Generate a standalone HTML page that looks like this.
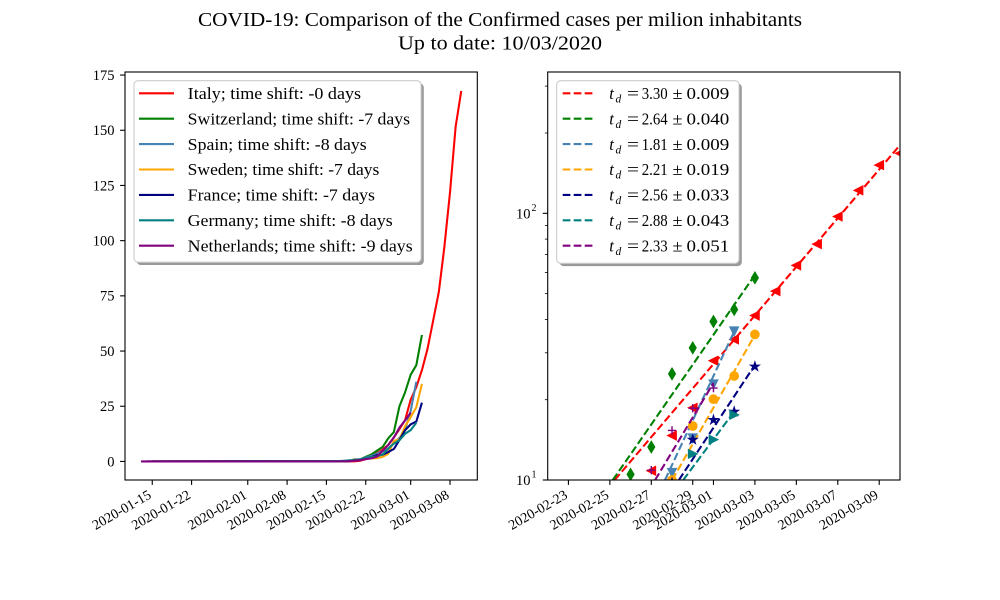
<!DOCTYPE html>
<html><head><meta charset="utf-8"><style>
html,body{margin:0;padding:0;background:#fff;}
svg{display:block;}
text{font-family:"Liberation Serif","DejaVu Serif",serif;fill:#000;}
</style></head><body>
<svg width="1000" height="600" viewBox="0 0 1000 600" xmlns="http://www.w3.org/2000/svg">
<defs>
<clipPath id="cr"><rect x="547.7" y="72" width="352.3" height="408"/></clipPath>
<clipPath id="cl"><rect x="125" y="72" width="352.3" height="408"/></clipPath>
</defs>
<rect width="1000" height="600" fill="#fff"/>
<!-- Title -->
<text x="500" y="26" font-size="20" text-anchor="middle" textLength="604" lengthAdjust="spacingAndGlyphs">COVID-19: Comparison of the Confirmed cases per milion inhabitants</text>
<text x="500" y="49.5" font-size="20" text-anchor="middle" textLength="204" lengthAdjust="spacingAndGlyphs">Up to date: 10/03/2020</text>

<!-- LEFT CHART -->
<g clip-path="url(#cl)">
<g transform="matrix(5.6184 0 0 -2.208 141.01 461.45)" fill="none" stroke-width="2.08" stroke-linejoin="round">
<polyline vector-effect="non-scaling-stroke" stroke="#ff0000" points="9,0 18,0.033 25,0.05 38,0.05 39,0.33 40,1.03 41,2.56 42,3.79 43,5.32 44,7.49 45,10.83 46,14.68 47,18.65 48,28.0 49,33.66 50,41.37 51,51.07 52,63.79 53,76.65 54,97.27 55,121.94 56,151.65 57,167.81"/>
<polyline vector-effect="non-scaling-stroke" stroke="#008000" points="2,0 35,0 36,0.117 37,0.117 38,0.93 39,0.93 40,2.1 41,3.15 42,4.9 43,6.53 44,10.5 45,13.3 46,25.0 47,31.3 48,39.3 49,43.6 50,57.3"/>
<polyline vector-effect="non-scaling-stroke" stroke="#4682b4" points="1,0 34,0.04 35,0.13 36,0.28 37,0.32 38,0.68 39,0.96 40,1.79 41,2.56 42,3.52 43,4.73 44,5.52 45,8.52 46,10.65 47,14.34 48,22.86 49,36.1"/>
<polyline vector-effect="non-scaling-stroke" stroke="#ffa500" points="2,0 37,0.2 38,0.69 39,0.69 40,1.19 41,1.39 42,1.49 43,2.08 44,3.47 45,9.31 46,10.0 47,15.94 48,20.1 49,24.55 50,35.15"/>
<polyline vector-effect="non-scaling-stroke" stroke="#000080" points="2,0 36,0.2 37,0.27 38,0.57 39,0.85 40,1.49 41,1.94 42,2.85 43,3.04 44,4.25 45,5.63 46,9.75 47,14.16 48,16.8 49,18.04 50,26.63"/>
<polyline vector-effect="non-scaling-stroke" stroke="#008080" points="1,0 35,0.19 36,0.2 37,0.55 38,0.58 39,0.95 40,1.57 41,1.92 42,2.36 43,3.16 44,5.81 45,8.07 46,9.63 47,12.53 48,14.17 49,17.55"/>
<polyline vector-effect="non-scaling-stroke" stroke="#800080" points="0,0 35,0 36,0.058 37,0.058 38,0.35 39,0.58 40,1.04 41,1.39 42,2.2 43,4.75 44,7.41 45,10.88 46,15.34 47,18.58 48,22.11"/>
</g>
</g>
<rect x="125" y="72" width="352.3" height="408" fill="none" stroke="#000" stroke-width="1.1"/>
<!-- left y ticks -->
<g stroke="#000" stroke-width="1.1">
<line x1="120.1" x2="125" y1="461.45" y2="461.45"/>
<line x1="120.1" x2="125" y1="406.25" y2="406.25"/>
<line x1="120.1" x2="125" y1="351.05" y2="351.05"/>
<line x1="120.1" x2="125" y1="295.85" y2="295.85"/>
<line x1="120.1" x2="125" y1="240.65" y2="240.65"/>
<line x1="120.1" x2="125" y1="185.45" y2="185.45"/>
<line x1="120.1" x2="125" y1="130.25" y2="130.25"/>
<line x1="120.1" x2="125" y1="75.05" y2="75.05"/>
</g>
<g font-size="14.5" text-anchor="end">
<text x="114.5" y="466.3">0</text>
<text x="114.5" y="411.1">25</text>
<text x="114.5" y="355.9">50</text>
<text x="114.5" y="300.7">75</text>
<text x="114.5" y="245.5">100</text>
<text x="114.5" y="190.3">125</text>
<text x="114.5" y="135.1">150</text>
<text x="114.5" y="79.9">175</text>
</g>
<!-- left x ticks -->
<g stroke="#000" stroke-width="1.1">
<line x1="152.25" x2="152.25" y1="480" y2="484.9"/>
<line x1="191.58" x2="191.58" y1="480" y2="484.9"/>
<line x1="247.76" x2="247.76" y1="480" y2="484.9"/>
<line x1="287.09" x2="287.09" y1="480" y2="484.9"/>
<line x1="326.42" x2="326.42" y1="480" y2="484.9"/>
<line x1="365.75" x2="365.75" y1="480" y2="484.9"/>
<line x1="410.69" x2="410.69" y1="480" y2="484.9"/>
<line x1="450.02" x2="450.02" y1="480" y2="484.9"/>
</g>
<g font-size="14" text-anchor="end">
<text transform="translate(152.25,497.5) rotate(-30)">2020-01-15</text>
<text transform="translate(191.58,497.5) rotate(-30)">2020-01-22</text>
<text transform="translate(247.76,497.5) rotate(-30)">2020-02-01</text>
<text transform="translate(287.09,497.5) rotate(-30)">2020-02-08</text>
<text transform="translate(326.42,497.5) rotate(-30)">2020-02-15</text>
<text transform="translate(365.75,497.5) rotate(-30)">2020-02-22</text>
<text transform="translate(410.69,497.5) rotate(-30)">2020-03-01</text>
<text transform="translate(450.02,497.5) rotate(-30)">2020-03-08</text>
</g>
<!-- left legend -->
<rect x="136.8" y="83.5" width="287" height="181.5" rx="4" fill="#9a9a9a"/>
<rect x="134" y="80.7" width="287" height="181.5" rx="4" fill="#fff" stroke="#cccccc" stroke-width="1.1"/>
<g stroke-width="2.08">
<line x1="139" x2="174" y1="93.3" y2="93.3" stroke="#ff0000"/>
<line x1="139" x2="174" y1="118.7" y2="118.7" stroke="#008000"/>
<line x1="139" x2="174" y1="144.1" y2="144.1" stroke="#4682b4"/>
<line x1="139" x2="174" y1="169.5" y2="169.5" stroke="#ffa500"/>
<line x1="139" x2="174" y1="194.9" y2="194.9" stroke="#000080"/>
<line x1="139" x2="174" y1="220.3" y2="220.3" stroke="#008080"/>
<line x1="139" x2="174" y1="245.7" y2="245.7" stroke="#800080"/>
</g>
<g font-size="16.5">
<text x="187.7" y="99" textLength="173.3" lengthAdjust="spacingAndGlyphs">Italy; time shift: -0 days</text>
<text x="187.7" y="124.4" textLength="222.3" lengthAdjust="spacingAndGlyphs">Switzerland; time shift: -7 days</text>
<text x="187.7" y="149.8" textLength="179" lengthAdjust="spacingAndGlyphs">Spain; time shift: -8 days</text>
<text x="187.7" y="175.2" textLength="191.6" lengthAdjust="spacingAndGlyphs">Sweden; time shift: -7 days</text>
<text x="187.7" y="200.6" textLength="187.3" lengthAdjust="spacingAndGlyphs">France; time shift: -7 days</text>
<text x="187.7" y="226" textLength="205" lengthAdjust="spacingAndGlyphs">Germany; time shift: -8 days</text>
<text x="187.7" y="251.4" textLength="225" lengthAdjust="spacingAndGlyphs">Netherlands; time shift: -9 days</text>
</g>

<!-- RIGHT CHART -->
<g clip-path="url(#cr)">
<!-- Italy -->
<g fill="#ff0000" stroke="#ff0000" stroke-width="1.39">
<polygon transform="translate(651.3,470.76)" points="-4.17,0 4.17,-4.17 4.17,4.17"/>
<polygon transform="translate(672.02,435.53)" points="-4.17,0 4.17,-4.17 4.17,4.17"/>
<polygon transform="translate(692.74,407.81)" points="-4.17,0 4.17,-4.17 4.17,4.17"/>
<polygon transform="translate(713.46,360.74)" points="-4.17,0 4.17,-4.17 4.17,4.17"/>
<polygon transform="translate(734.18,339.42)" points="-4.17,0 4.17,-4.17 4.17,4.17"/>
<polygon transform="translate(754.9,315.53)" points="-4.17,0 4.17,-4.17 4.17,4.17"/>
<polygon transform="translate(775.62,291.13)" points="-4.17,0 4.17,-4.17 4.17,4.17"/>
<polygon transform="translate(796.34,265.37)" points="-4.17,0 4.17,-4.17 4.17,4.17"/>
<polygon transform="translate(817.06,244.1)" points="-4.17,0 4.17,-4.17 4.17,4.17"/>
<polygon transform="translate(837.78,216.51)" points="-4.17,0 4.17,-4.17 4.17,4.17"/>
<polygon transform="translate(858.5,190.33)" points="-4.17,0 4.17,-4.17 4.17,4.17"/>
<polygon transform="translate(879.22,165.07)" points="-4.17,0 4.17,-4.17 4.17,4.17"/>
<polygon transform="translate(899.94,153.34)" points="-4.17,0 4.17,-4.17 4.17,4.17"/>
</g>
<line x1="614.7" y1="480" x2="899.94" y2="145.1" stroke="#ff0000" stroke-width="2.08" stroke-dasharray="7.7 3.3"/>
<!-- Switzerland -->
<g fill="#008000" stroke="#008000" stroke-width="1.39">
<polygon transform="translate(630.58,474.35)" points="0,-5.5 3.3,0 0,5.5 -3.3,0"/>
<polygon transform="translate(651.3,447.04)" points="0,-5.5 3.3,0 0,5.5 -3.3,0"/>
<polygon transform="translate(672.02,373.87)" points="0,-5.5 3.3,0 0,5.5 -3.3,0"/>
<polygon transform="translate(692.74,347.85)" points="0,-5.5 3.3,0 0,5.5 -3.3,0"/>
<polygon transform="translate(713.46,321.48)" points="0,-5.5 3.3,0 0,5.5 -3.3,0"/>
<polygon transform="translate(734.18,309.46)" points="0,-5.5 3.3,0 0,5.5 -3.3,0"/>
<polygon transform="translate(754.9,277.82)" points="0,-5.5 3.3,0 0,5.5 -3.3,0"/>
</g>
<line x1="612.8" y1="480" x2="754.9" y2="275" stroke="#008000" stroke-width="2.08" stroke-dasharray="7.7 3.3"/>
<!-- Spain -->
<g fill="#4682b4" stroke="#4682b4" stroke-width="1.39">
<polygon transform="translate(672.02,472.71)" points="0,4.17 -4.17,-4.17 4.17,-4.17"/>
<polygon transform="translate(692.74,438.24)" points="0,4.17 -4.17,-4.17 4.17,-4.17"/>
<polygon transform="translate(713.46,384.23)" points="0,4.17 -4.17,-4.17 4.17,-4.17"/>
<polygon transform="translate(734.18,331.3)" points="0,4.17 -4.17,-4.17 4.17,-4.17"/>
</g>
<line x1="665" y1="480" x2="734.18" y2="331.5" stroke="#4682b4" stroke-width="2.08" stroke-dasharray="7.7 3.3"/>
<!-- Sweden -->
<g fill="#ffa500" stroke="#ffa500" stroke-width="1.39">
<circle cx="672.02" cy="480" r="4.17"/>
<circle cx="692.74" cy="426" r="4.17"/>
<circle cx="713.46" cy="399.14" r="4.17"/>
<circle cx="734.18" cy="375.98" r="4.17"/>
<circle cx="754.9" cy="334.4" r="4.17"/>
</g>
<line x1="672.2" y1="480" x2="754.9" y2="335" stroke="#ffa500" stroke-width="2.08" stroke-dasharray="7.7 3.3"/>
<!-- France -->
<g fill="#000080" stroke="#000080" stroke-width="1.1" stroke-linejoin="miter">
<polygon transform="translate(672.02,482.93)" points="0,-4.6 1.03,-1.42 4.37,-1.42 1.67,0.54 2.7,3.72 0,1.76 -2.7,3.72 -1.67,0.54 -4.37,-1.42 -1.03,-1.42"/>
<polygon transform="translate(692.74,439.71)" points="0,-4.6 1.03,-1.42 4.37,-1.42 1.67,0.54 2.7,3.72 0,1.76 -2.7,3.72 -1.67,0.54 -4.37,-1.42 -1.03,-1.42"/>
<polygon transform="translate(713.46,419.91)" points="0,-4.6 1.03,-1.42 4.37,-1.42 1.67,0.54 2.7,3.72 0,1.76 -2.7,3.72 -1.67,0.54 -4.37,-1.42 -1.03,-1.42"/>
<polygon transform="translate(734.18,411.66)" points="0,-4.6 1.03,-1.42 4.37,-1.42 1.67,0.54 2.7,3.72 0,1.76 -2.7,3.72 -1.67,0.54 -4.37,-1.42 -1.03,-1.42"/>
<polygon transform="translate(754.9,366.54)" points="0,-4.6 1.03,-1.42 4.37,-1.42 1.67,0.54 2.7,3.72 0,1.76 -2.7,3.72 -1.67,0.54 -4.37,-1.42 -1.03,-1.42"/>
</g>
<line x1="678.9" y1="480" x2="754.9" y2="365" stroke="#000080" stroke-width="2.08" stroke-dasharray="7.7 3.3"/>
<!-- Germany -->
<g fill="#008080" stroke="#008080" stroke-width="1.39">
<polygon transform="translate(672.02,484.37)" points="4.17,0 -4.17,-4.17 -4.17,4.17"/>
<polygon transform="translate(692.74,453.88)" points="4.17,0 -4.17,-4.17 -4.17,4.17"/>
<polygon transform="translate(713.46,439.63)" points="4.17,0 -4.17,-4.17 -4.17,4.17"/>
<polygon transform="translate(734.18,414.85)" points="4.17,0 -4.17,-4.17 -4.17,4.17"/>
</g>
<line x1="683.25" y1="480" x2="734.18" y2="411.5" stroke="#008080" stroke-width="2.08" stroke-dasharray="7.7 3.3"/>
<!-- Netherlands -->
<g fill="none" stroke="#800080" stroke-width="1.39">
<path transform="translate(651.3,470.23)" d="M-4.17,0H4.17M0,-4.17V4.17"/>
<path transform="translate(672.02,430.44)" d="M-4.17,0H4.17M0,-4.17V4.17"/>
<path transform="translate(692.74,408.25)" d="M-4.17,0H4.17M0,-4.17V4.17"/>
<path transform="translate(713.46,388.1)" d="M-4.17,0H4.17M0,-4.17V4.17"/>
</g>
<line x1="655.1" y1="480" x2="713.46" y2="383" stroke="#800080" stroke-width="2.08" stroke-dasharray="7.7 3.3"/>
</g>
<rect x="547.7" y="72" width="352.3" height="408" fill="none" stroke="#000" stroke-width="1.1"/>
<!-- right y ticks -->
<g stroke="#000" stroke-width="1.1">
<line x1="542.8" x2="547.7" y1="480" y2="480"/>
<line x1="542.8" x2="547.7" y1="213.3" y2="213.3"/>
</g>
<g stroke="#000" stroke-width="0.8">
<line x1="544.9" x2="547.7" y1="399.7" y2="399.7"/>
<line x1="544.9" x2="547.7" y1="352.8" y2="352.8"/>
<line x1="544.9" x2="547.7" y1="319.4" y2="319.4"/>
<line x1="544.9" x2="547.7" y1="293.6" y2="293.6"/>
<line x1="544.9" x2="547.7" y1="272.5" y2="272.5"/>
<line x1="544.9" x2="547.7" y1="254.6" y2="254.6"/>
<line x1="544.9" x2="547.7" y1="239.1" y2="239.1"/>
<line x1="544.9" x2="547.7" y1="225.5" y2="225.5"/>
<line x1="544.9" x2="547.7" y1="133.0" y2="133.0"/>
<line x1="544.9" x2="547.7" y1="86.1" y2="86.1"/>
</g>
<text x="516" y="218.3" font-size="14.5">10</text>
<text x="531.5" y="211" font-size="10">2</text>
<text x="516" y="485" font-size="14.5">10</text>
<text x="531.5" y="477.7" font-size="10">1</text>
<!-- right x ticks -->
<g stroke="#000" stroke-width="1.1">
<line x1="568.42" x2="568.42" y1="480" y2="484.9"/>
<line x1="609.86" x2="609.86" y1="480" y2="484.9"/>
<line x1="651.3" x2="651.3" y1="480" y2="484.9"/>
<line x1="692.74" x2="692.74" y1="480" y2="484.9"/>
<line x1="713.46" x2="713.46" y1="480" y2="484.9"/>
<line x1="754.9" x2="754.9" y1="480" y2="484.9"/>
<line x1="796.34" x2="796.34" y1="480" y2="484.9"/>
<line x1="837.78" x2="837.78" y1="480" y2="484.9"/>
<line x1="879.22" x2="879.22" y1="480" y2="484.9"/>
</g>
<g font-size="14" text-anchor="end">
<text transform="translate(568.42,497.5) rotate(-30)">2020-02-23</text>
<text transform="translate(609.86,497.5) rotate(-30)">2020-02-25</text>
<text transform="translate(651.3,497.5) rotate(-30)">2020-02-27</text>
<text transform="translate(692.74,497.5) rotate(-30)">2020-02-29</text>
<text transform="translate(713.46,497.5) rotate(-30)">2020-03-01</text>
<text transform="translate(754.9,497.5) rotate(-30)">2020-03-03</text>
<text transform="translate(796.34,497.5) rotate(-30)">2020-03-05</text>
<text transform="translate(837.78,497.5) rotate(-30)">2020-03-07</text>
<text transform="translate(879.22,497.5) rotate(-30)">2020-03-09</text>
</g>
<!-- right legend -->
<rect x="559.5" y="83.5" width="182.3" height="182.6" rx="4" fill="#9a9a9a"/>
<rect x="556.7" y="80.7" width="182.3" height="182.6" rx="4" fill="#fff" stroke="#cccccc" stroke-width="1.1"/>
<g stroke-width="2.08" stroke-dasharray="7.7 3.3">
<line x1="562.7" x2="593.3" y1="93.3" y2="93.3" stroke="#ff0000"/>
<line x1="562.7" x2="593.3" y1="118.7" y2="118.7" stroke="#008000"/>
<line x1="562.7" x2="593.3" y1="144.1" y2="144.1" stroke="#4682b4"/>
<line x1="562.7" x2="593.3" y1="169.5" y2="169.5" stroke="#ffa500"/>
<line x1="562.7" x2="593.3" y1="194.9" y2="194.9" stroke="#000080"/>
<line x1="562.7" x2="593.3" y1="220.3" y2="220.3" stroke="#008080"/>
<line x1="562.7" x2="593.3" y1="245.7" y2="245.7" stroke="#800080"/>
</g>
<g font-size="16.5">
<g transform="translate(0,99)">
<text x="609.3" y="0" font-style="italic">t</text><text x="615.5" y="3.5" font-size="11.5" font-style="italic">d</text>
<text x="627" y="0" textLength="12" lengthAdjust="spacingAndGlyphs">=</text>
<text x="641.7" y="0" textLength="26" lengthAdjust="spacingAndGlyphs">3.30</text>
<text x="672.5" y="0" textLength="10" lengthAdjust="spacingAndGlyphs">±</text>
<text x="686.5" y="0" textLength="42.8" lengthAdjust="spacingAndGlyphs">0.009</text>
</g>
<g transform="translate(0,124.4)">
<text x="609.3" y="0" font-style="italic">t</text><text x="615.5" y="3.5" font-size="11.5" font-style="italic">d</text>
<text x="627" y="0" textLength="12" lengthAdjust="spacingAndGlyphs">=</text>
<text x="641.7" y="0" textLength="26" lengthAdjust="spacingAndGlyphs">2.64</text>
<text x="672.5" y="0" textLength="10" lengthAdjust="spacingAndGlyphs">±</text>
<text x="686.5" y="0" textLength="42.8" lengthAdjust="spacingAndGlyphs">0.040</text>
</g>
<g transform="translate(0,149.8)">
<text x="609.3" y="0" font-style="italic">t</text><text x="615.5" y="3.5" font-size="11.5" font-style="italic">d</text>
<text x="627" y="0" textLength="12" lengthAdjust="spacingAndGlyphs">=</text>
<text x="641.7" y="0" textLength="26" lengthAdjust="spacingAndGlyphs">1.81</text>
<text x="672.5" y="0" textLength="10" lengthAdjust="spacingAndGlyphs">±</text>
<text x="686.5" y="0" textLength="42.8" lengthAdjust="spacingAndGlyphs">0.009</text>
</g>
<g transform="translate(0,175.2)">
<text x="609.3" y="0" font-style="italic">t</text><text x="615.5" y="3.5" font-size="11.5" font-style="italic">d</text>
<text x="627" y="0" textLength="12" lengthAdjust="spacingAndGlyphs">=</text>
<text x="641.7" y="0" textLength="26" lengthAdjust="spacingAndGlyphs">2.21</text>
<text x="672.5" y="0" textLength="10" lengthAdjust="spacingAndGlyphs">±</text>
<text x="686.5" y="0" textLength="42.8" lengthAdjust="spacingAndGlyphs">0.019</text>
</g>
<g transform="translate(0,200.6)">
<text x="609.3" y="0" font-style="italic">t</text><text x="615.5" y="3.5" font-size="11.5" font-style="italic">d</text>
<text x="627" y="0" textLength="12" lengthAdjust="spacingAndGlyphs">=</text>
<text x="641.7" y="0" textLength="26" lengthAdjust="spacingAndGlyphs">2.56</text>
<text x="672.5" y="0" textLength="10" lengthAdjust="spacingAndGlyphs">±</text>
<text x="686.5" y="0" textLength="42.8" lengthAdjust="spacingAndGlyphs">0.033</text>
</g>
<g transform="translate(0,226)">
<text x="609.3" y="0" font-style="italic">t</text><text x="615.5" y="3.5" font-size="11.5" font-style="italic">d</text>
<text x="627" y="0" textLength="12" lengthAdjust="spacingAndGlyphs">=</text>
<text x="641.7" y="0" textLength="26" lengthAdjust="spacingAndGlyphs">2.88</text>
<text x="672.5" y="0" textLength="10" lengthAdjust="spacingAndGlyphs">±</text>
<text x="686.5" y="0" textLength="42.8" lengthAdjust="spacingAndGlyphs">0.043</text>
</g>
<g transform="translate(0,251.4)">
<text x="609.3" y="0" font-style="italic">t</text><text x="615.5" y="3.5" font-size="11.5" font-style="italic">d</text>
<text x="627" y="0" textLength="12" lengthAdjust="spacingAndGlyphs">=</text>
<text x="641.7" y="0" textLength="26" lengthAdjust="spacingAndGlyphs">2.33</text>
<text x="672.5" y="0" textLength="10" lengthAdjust="spacingAndGlyphs">±</text>
<text x="686.5" y="0" textLength="42.8" lengthAdjust="spacingAndGlyphs">0.051</text>
</g>
</g>
</svg>
</body></html>
